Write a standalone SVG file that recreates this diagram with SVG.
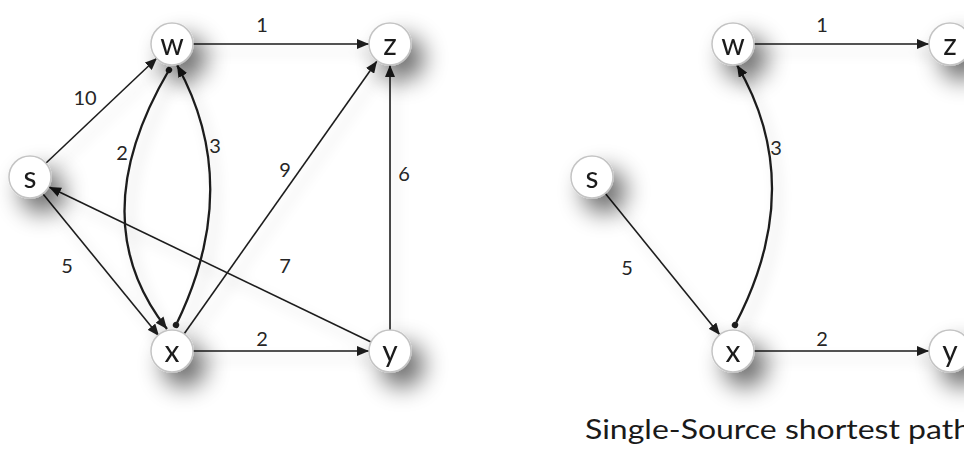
<svg xmlns="http://www.w3.org/2000/svg" width="964" height="450" viewBox="0 0 964 450">
<style>
  .node circle { fill: #ffffff; stroke: #c4c4c4; stroke-width: 1.5; }
  .node text { font-family: Lato, "Open Sans", "Liberation Sans", sans-serif; font-size: 30px; fill: #1a1a1a; text-anchor: middle; dominant-baseline: central; }
  .edge { fill: none; stroke: #1e1e1e; stroke-width: 1.6; marker-end: url(#arrow); }
  .curve { fill: none; stroke: #1e1e1e; stroke-width: 2.3; marker-end: url(#arrow); marker-start: url(#dot); }
  .lbl { font-family: Lato, "Open Sans", "Liberation Sans", sans-serif; font-size: 20px; fill: #262626; text-anchor: middle; dominant-baseline: central; }
  .title { font-family: Lato, "Open Sans", "Liberation Sans", sans-serif; font-size: 27px; fill: #1a1a1a; }
</style>
<defs>
  <marker id="arrow" markerUnits="userSpaceOnUse" viewBox="0 0 12 10" refX="12" refY="5" markerWidth="12" markerHeight="10" orient="auto">
    <path d="M0,0 L12,5 L0,10 Z" fill="#1e1e1e"/>
  </marker>
  <marker id="dot" markerUnits="userSpaceOnUse" viewBox="0 0 8 8" refX="4" refY="4" markerWidth="8" markerHeight="8" orient="auto">
    <circle cx="4" cy="4" r="3.2" fill="#1e1e1e"/>
  </marker>
  <filter id="nodeShadow" x="-150%" y="-150%" width="400%" height="400%">
    <feGaussianBlur in="SourceAlpha" stdDeviation="12"/>
    <feOffset dx="12" dy="14" result="b"/>
    <feComponentTransfer><feFuncA type="linear" slope="0.6"/></feComponentTransfer>
    <feMerge><feMergeNode/><feMergeNode in="SourceGraphic"/></feMerge>
  </filter>
  <filter id="edgeShadow" x="-20%" y="-20%" width="140%" height="140%">
    <feGaussianBlur in="SourceAlpha" stdDeviation="7"/>
    <feOffset dx="6" dy="8"/>
    <feComponentTransfer><feFuncA type="linear" slope="0.22"/></feComponentTransfer>
    <feMerge><feMergeNode/><feMergeNode in="SourceGraphic"/></feMerge>
  </filter>
</defs>
<rect width="964" height="450" fill="#ffffff"/>

<g id="connectors" filter="url(#edgeShadow)">
  <!-- left graph -->
  <path id="e-w-z" class="edge" d="M193,44 L369,44"/>
  <path id="e-s-w" class="edge" d="M45,164 L157,58"/>
  <path id="e-s-x" class="edge" d="M43,194 L159,336"/>
  <path id="e-x-z" class="edge" d="M184,334 L377,61"/>
  <path id="e-y-s" class="edge" d="M371,342 L49,187"/>
  <path id="e-y-z" class="edge" d="M390,330 L390,65"/>
  <path id="e-x-y" class="edge" d="M193,351 L369,351"/>
  <path id="e-w-x" class="curve" d="M169,70 Q81,220 167,329"/>
  <path id="e-x-w" class="curve" d="M176,325 Q244,186 177,65"/>
  <!-- right graph -->
  <path id="r-w-z" class="edge" d="M754,44 L929,44"/>
  <path id="r-s-x" class="edge" d="M605,193 L720,335"/>
  <path id="r-x-y" class="edge" d="M754,351 L929,351"/>
  <path id="r-x-w" class="curve" d="M735,325 Q808,186 737,65"/>
</g>

<g id="labels">
  <text class="lbl" x="262" y="24">1</text>
  <text class="lbl" x="85" y="97">10</text>
  <text class="lbl" x="122" y="152">2</text>
  <text class="lbl" x="215" y="145">3</text>
  <text class="lbl" x="285" y="169">9</text>
  <text class="lbl" x="404" y="173">6</text>
  <text class="lbl" x="285" y="265">7</text>
  <text class="lbl" x="67" y="265">5</text>
  <text class="lbl" x="262" y="338">2</text>
  <text class="lbl" x="822" y="24">1</text>
  <text class="lbl" x="776" y="147">3</text>
  <text class="lbl" x="627" y="267">5</text>
  <text class="lbl" x="822" y="338">2</text>
</g>

<g id="node-w" class="node" filter="url(#nodeShadow)"><circle cx="172" cy="44" r="21"/><text x="172" y="43">w</text></g>
<g id="node-z" class="node" filter="url(#nodeShadow)"><circle cx="390" cy="44" r="21"/><text x="390" y="43">z</text></g>
<g id="node-s" class="node" filter="url(#nodeShadow)"><circle cx="30" cy="177" r="21"/><text x="30" y="176">s</text></g>
<g id="node-x" class="node" filter="url(#nodeShadow)"><circle cx="172" cy="351" r="21"/><text x="172" y="350">x</text></g>
<g id="node-y" class="node" filter="url(#nodeShadow)"><circle cx="390" cy="351" r="21"/><text x="390" y="350">y</text></g>

<g id="node-w2" class="node" filter="url(#nodeShadow)"><circle cx="733" cy="44" r="21"/><text x="733" y="43">w</text></g>
<g id="node-z2" class="node" filter="url(#nodeShadow)"><circle cx="950" cy="44" r="21"/><text x="950" y="43">z</text></g>
<g id="node-s2" class="node" filter="url(#nodeShadow)"><circle cx="592" cy="177" r="21"/><text x="592" y="176">s</text></g>
<g id="node-x2" class="node" filter="url(#nodeShadow)"><circle cx="733" cy="351" r="21"/><text x="733" y="350">x</text></g>
<g id="node-y2" class="node" filter="url(#nodeShadow)"><circle cx="950" cy="351" r="21"/><text x="950" y="350">y</text></g>

<text id="caption" class="title" x="585" y="439" textLength="386" lengthAdjust="spacingAndGlyphs">Single-Source shortest path</text>
</svg>
